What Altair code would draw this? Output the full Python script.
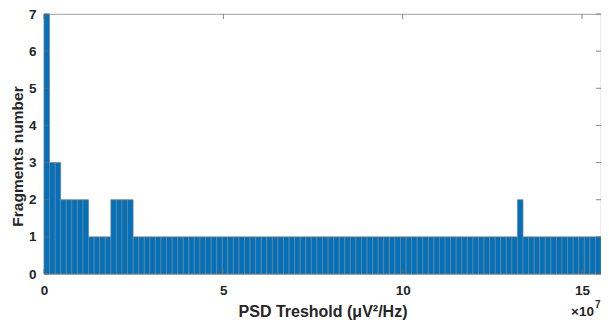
import altair as alt
import pandas as pd

# ---- data ----
COUNTS = [7, 3, 3, 2, 2, 2, 2, 2, 1, 1, 1, 1, 2, 2, 2, 2,
          1, 1, 1, 1, 1, 1, 1, 1, 1, 1, 1, 1, 1, 1, 1, 1, 1, 1, 1, 1,
          1, 1, 1, 1, 1, 1, 1, 1, 1, 1, 1, 1, 1, 1, 1, 1, 1, 1, 1, 1,
          1, 1, 1, 1, 1, 1, 1, 1, 1, 1, 1, 1, 1, 1, 1, 1, 1, 1, 1, 1,
          1, 1, 1, 1, 1, 1, 1, 1, 1,
          2,
          1, 1, 1, 1, 1, 1, 1, 1, 1, 1, 1, 1, 1, 1]
BIN_WIDTH = 1.553e6
X_TICKS = [0, 5e7, 1e8, 1.5e8]
Y_TICKS = [0, 1, 2, 3, 4, 5, 6, 7]
EXP_BASE = ["×10"]
EXP_POWER = ["7"]

W, H = 557, 260
FONT = "Liberation Sans"
TXT = "#262626"
TICK = "#6a6a6a"

bins = pd.DataFrame({
    "start": [i * BIN_WIDTH for i in range(len(COUNTS))],
    "count": COUNTS,
})
bins["end"] = bins["start"] + BIN_WIDTH
bins["base"] = 0

xscale = alt.Scale(domain=[0, len(COUNTS) * BIN_WIDTH], nice=False, zero=False)
yscale = alt.Scale(domain=[0, 7], nice=False)

x_axis = alt.Axis(
    values=X_TICKS, labelExpr="datum.value / 1e7", ticks=False, domain=False,
    grid=False, labelFlush=False, labelFont=FONT, labelFontWeight="bold",
    labelFontSize=13.5, labelColor=TXT, labelPadding=9,
    title="PSD Treshold (μV²/Hz)", titleFont=FONT, titleFontWeight="bold",
    titleFontSize=16, titleColor=TXT, titleBaseline="alphabetic",
    titleAlign="center", titleX=W / 2, titleY=42,
)
y_axis = alt.Axis(
    values=Y_TICKS, ticks=False, domain=False, grid=False,
    labelFont=FONT, labelFontWeight="bold", labelFontSize=13.5,
    labelColor=TXT, labelPadding=8,
    title="Fragments number", titleFont=FONT, titleFontWeight="bold",
    titleFontSize=15.5, titleColor=TXT, titleBaseline="alphabetic",
    titleAlign="center", titleAngle=270, titleX=-22, titleY=142,
)

bars = alt.Chart(bins).mark_rect(
    color="#0072BD", stroke="#7f7f7f", strokeWidth=0.7, opacity=1
).encode(
    x=alt.X("start:Q", scale=xscale, axis=x_axis),
    x2="end:Q",
    y=alt.Y("count:Q", scale=yscale, axis=y_axis),
    y2="base:Q",
)

xt = pd.DataFrame({"v": X_TICKS})
yt = pd.DataFrame({"v": Y_TICKS})

tick_style = dict(color=TICK, strokeWidth=0.8)
x_bottom = alt.Chart(xt).mark_rule(**tick_style).encode(
    x=alt.X("v:Q", scale=xscale, axis=x_axis), y=alt.value(H), y2=alt.value(H - 5))
x_top = alt.Chart(xt).mark_rule(**tick_style).encode(
    x=alt.X("v:Q", scale=xscale, axis=x_axis), y=alt.value(0), y2=alt.value(5))
y_left = alt.Chart(yt).mark_rule(**tick_style).encode(
    y=alt.Y("v:Q", scale=yscale, axis=y_axis), x=alt.value(0), x2=alt.value(5))
y_right = alt.Chart(yt).mark_rule(**tick_style).encode(
    y=alt.Y("v:Q", scale=yscale, axis=y_axis), x=alt.value(W - 5), x2=alt.value(W))

exp_base = alt.Chart(pd.DataFrame({"t": EXP_BASE})).mark_text(
    font=FONT, fontWeight="bold", fontSize=13.5, color=TXT,
    align="right", baseline="alphabetic"
).encode(text="t:N", x=alt.value(W - 7), y=alt.value(302))
exp_pow = alt.Chart(pd.DataFrame({"t": EXP_POWER})).mark_text(
    font=FONT, fontWeight="bold", fontSize=10, color=TXT,
    align="left", baseline="alphabetic"
).encode(text="t:N", x=alt.value(W - 6), y=alt.value(294))

chart = alt.layer(bars, x_bottom, x_top, y_left, y_right, exp_base, exp_pow).properties(
    width=W, height=H,
    autosize=alt.AutoSizeParams(type="none"),
    padding={"left": 36, "top": 6, "right": 0, "bottom": 48},
    background="white",
).configure_view(stroke="#8a8a8a", strokeWidth=0.8)

chart.save("out.html", embed_options={"renderer": "svg", "actions": False})
